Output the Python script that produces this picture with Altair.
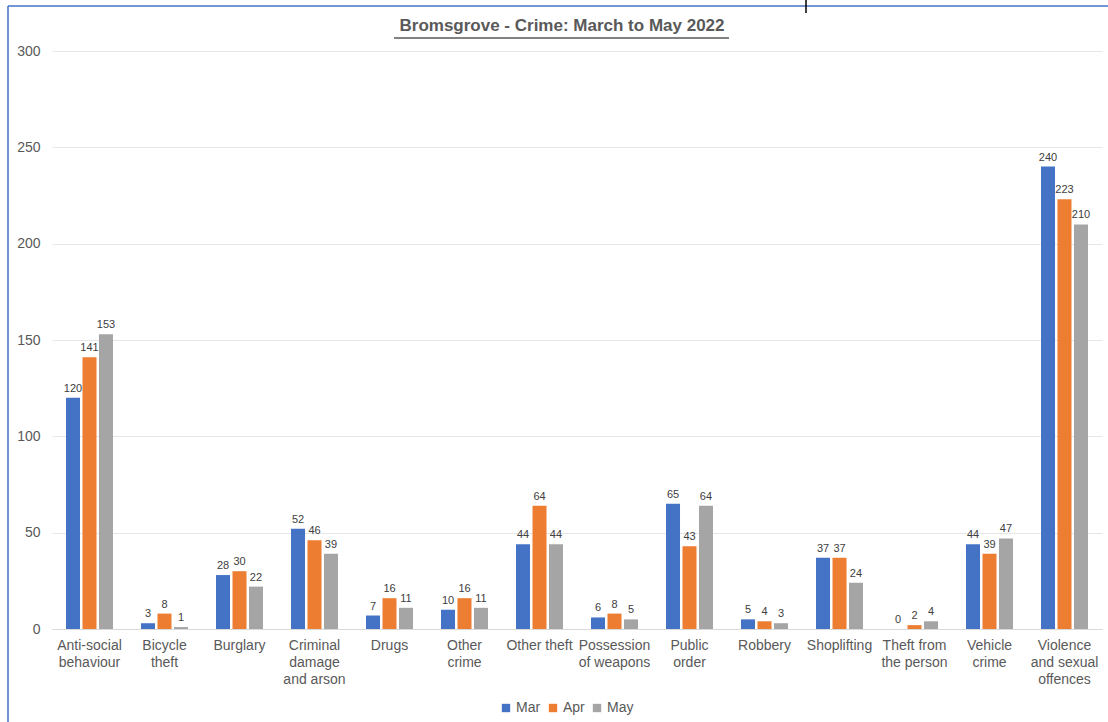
import json
import altair as alt
import pandas as pd

categories = [
    "Anti-social behaviour", "Bicycle theft", "Burglary", "Criminal damage and arson",
    "Drugs", "Other crime", "Other theft", "Possession of weapons", "Public order",
    "Robbery", "Shoplifting", "Theft from the person", "Vehicle crime",
    "Violence and sexual offences",
]
label_lines = [
    ["Anti-social", "behaviour"], ["Bicycle", "theft"], ["Burglary"],
    ["Criminal", "damage", "and arson"], ["Drugs"], ["Other", "crime"], ["Other theft"],
    ["Possession", "of weapons"], ["Public", "order"], ["Robbery"], ["Shoplifting"],
    ["Theft from", "the person"], ["Vehicle", "crime"], ["Violence", "and sexual", "offences"],
]
months = ["Mar", "Apr", "May"]
mar = [120, 3, 28, 52, 7, 10, 44, 6, 65, 5, 37, 0, 44, 240]
apr = [141, 8, 30, 46, 16, 16, 64, 8, 43, 4, 37, 2, 39, 223]
may = [153, 1, 22, 39, 11, 11, 44, 5, 64, 3, 24, 4, 47, 210]
colors = ["#4472C4", "#ED7D31", "#A5A5A5"]
title_text = "Bromsgrove - Crime: March to May 2022"

rows = []
for m, vals in zip(months, [mar, apr, may]):
    for c, v in zip(categories, vals):
        rows.append({"Category": c, "Month": m, "Value": v})
df = pd.DataFrame(rows)

label_map = json.dumps(dict(zip(categories, label_lines)))
FONT = "Liberation Sans"
W, H = 1050, 578

x = alt.X("Category:N", sort=categories, title=None,
          scale=alt.Scale(paddingInner=0, paddingOuter=0),
          axis=alt.Axis(labelAngle=0, ticks=False, domain=True, domainColor="#D9D9D9",
                        domainWidth=1, labelFontSize=14, labelColor="#595959",
                        labelFont=FONT, labelPadding=9, labelLineHeight=17,
                        labelBaseline="top",
                        labelExpr=f"{label_map}[datum.label]"))
xo = alt.XOffset("Month:N", sort=months,
                 scale=alt.Scale(paddingInner=0.15, paddingOuter=0.85))
y = alt.Y("Value:Q", title=None,
          scale=alt.Scale(domain=[0, 300]),
          axis=alt.Axis(values=[0, 50, 100, 150, 200, 250, 300], ticks=False, domain=False,
                        gridColor="#E6E6E6", gridWidth=1, labelFontSize=14,
                        labelColor="#595959", labelFont=FONT, labelPadding=12))
color = alt.Color("Month:N", sort=months,
                  scale=alt.Scale(domain=months, range=colors),
                  legend=alt.Legend(title=None, orient="none", direction="horizontal",
                                    legendX=447, legendY=650, symbolType="square",
                                    symbolSize=70, symbolStrokeWidth=0,
                                    labelFontSize=14, labelColor="#595959",
                                    labelFont=FONT, columnPadding=5, labelOffset=3))

base = alt.Chart(df)
bars = base.mark_bar(size=14).encode(x=x, xOffset=xo, y=y, color=color)
labels = base.mark_text(dy=-9, fontSize=11, font=FONT).encode(
    x=alt.X("Category:N", sort=categories), xOffset=xo, y="Value:Q",
    text="Value:Q", color=alt.value("#404040"))

title = alt.Chart(pd.DataFrame({"t": [title_text]})).mark_text(
    fontSize=17, fontWeight="bold", font=FONT, baseline="alphabetic"
).encode(text="t:N", x=alt.value(562 - 52), y=alt.value(31 - 51),
         color=alt.value("#595959"))
underline = alt.Chart(pd.DataFrame({"a": [0]})).mark_rule(strokeWidth=1.5).encode(
    x=alt.value(394 - 52), x2=alt.value(729 - 52), y=alt.value(38 - 51),
    color=alt.value("#595959"))
border_top = alt.Chart(pd.DataFrame({"a": [0]})).mark_rule(strokeWidth=1.5).encode(
    x=alt.value(8 - 52), x2=alt.value(1108 - 52), y=alt.value(6 - 51),
    color=alt.value("#4472C4"))
border_left = alt.Chart(pd.DataFrame({"a": [0]})).mark_rule(strokeWidth=1.5).encode(
    x=alt.value(8 - 52), y=alt.value(6 - 51), y2=alt.value(722 - 51),
    color=alt.value("#4472C4"))
mark_top = alt.Chart(pd.DataFrame({"a": [0]})).mark_rule(strokeWidth=1.5).encode(
    x=alt.value(806 - 52), y=alt.value(0 - 51), y2=alt.value(13 - 51),
    color=alt.value("#000000"))

chart = alt.layer(bars, labels, title, underline, border_top, border_left, mark_top).properties(
    width=W, height=H,
    background="white",
    autosize=alt.AutoSizeParams(type="none"),
    padding={"left": 52, "top": 51, "right": 6, "bottom": 93},
).configure_view(stroke=None)

chart.save("out.html", embed_options={"renderer": "svg", "actions": False})
